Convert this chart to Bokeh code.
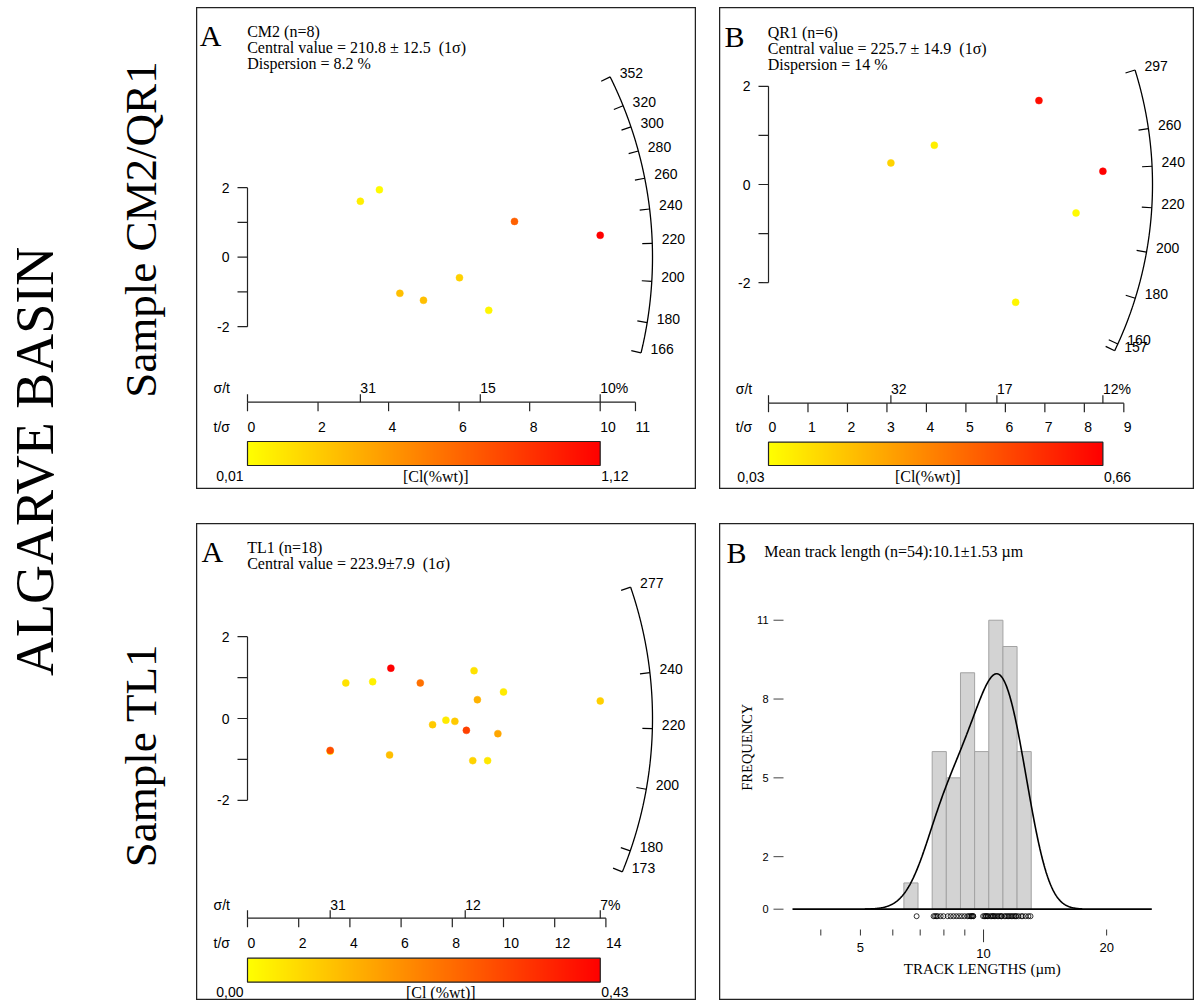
import numpy as np
from bokeh.plotting import figure
from bokeh.models import Range1d, ColumnDataSource, Spacer, LogScale, LinearColorMapper
from bokeh.layouts import row, column
from bokeh.transform import linear_cmap
from bokeh.core.properties import value
from bokeh.embed import file_html
from bokeh.resources import INLINE

SERIF = value("Liberation Serif")
SANS = value("Liberation Sans")
INK = "#222222"
NB = "\u00a0"
NUM = "14px"

# ---------------- data ----------------
# Sample CM2 (radial plot)
cm2_tsig = [3.20, 3.74, 7.57, 10.00, 4.32, 4.99, 6.01, 6.84]
cm2_z = [1.61, 1.94, 1.03, 0.63, -1.04, -1.24, -0.59, -1.53]
cm2_cl = [0.08, 0.03, 0.70, 1.12, 0.29, 0.29, 0.21, 0.05]
cm2_cl_range = [0.01, 1.12]
cm2_age_ticks = [352, 320, 300, 280, 260, 240, 220, 200, 180, 166]
cm2_age_ref = 212.5
cm2_x_ticks = [0, 2, 4, 6, 8, 10, 11]
cm2_lines = ["CM2 (n=8)", "Central value = 210.8 \u00b1 12.5 " + NB + "(1\u03c3)", "Dispersion = 8.2 %"]

# Sample QR1 (radial plot)
qr1_tsig = [3.10, 4.20, 6.85, 8.47, 7.79, 6.26]
qr1_z = [0.44, 0.80, 1.71, 0.27, -0.58, -2.40]
qr1_cl = [0.14, 0.07, 0.63, 0.66, 0.04, 0.05]
qr1_cl_range = [0.03, 0.66]
qr1_age_ticks = [297, 260, 240, 220, 200, 180, 160, 157]
qr1_age_ref = 231.0
qr1_x_ticks = [0, 1, 2, 3, 4, 5, 6, 7, 8, 9]
qr1_lines = ["QR1 (n=6)", "Central value = 225.7 \u00b1 14.9 " + NB + "(1\u03c3)", "Dispersion = 14 %"]

# Sample TL1 (radial plot)
tl1_tsig = [3.23, 3.23, 3.84, 4.89, 5.60, 6.75, 8.85, 10.00, 8.98, 13.78,
            7.23, 7.75, 8.10, 8.55, 9.78, 5.55, 8.80, 9.38]
tl1_z = [-0.80, -0.78, 0.87, 0.90, 1.23, 0.87, 1.17, 0.65, 0.46, 0.43,
         -0.15, -0.04, -0.07, -0.29, -0.37, -0.89, -1.03, -1.03]
tl1_cl = [0.04, 0.30, 0.05, 0.025, 0.43, 0.24, 0.05, 0.035, 0.13, 0.08,
          0.09, 0.035, 0.09, 0.32, 0.15, 0.11, 0.075, 0.04]
tl1_cl_range = [0.00, 0.43]
tl1_age_ticks = [277, 240, 220, 200, 180, 173]
tl1_age_ref = 223.5
tl1_x_ticks = [0, 2, 4, 6, 8, 10, 12, 14]
tl1_lines = ["TL1 (n=18)", "Central value = 223.9\u00b17.9 " + NB + "(1\u03c3)"]

z_ticks = [-2, -1, 0, 1, 2]
z_labels = ["-2", "", "0", "", "2"]

# Track lengths (TL1, n=54)
track_lengths = [5.4,
                 6.6, 6.7, 6.8, 6.9, 7.1, 7.3,
                 7.6, 7.8, 8.0, 8.2, 8.4,
                 8.6, 8.8, 9.0, 9.1, 9.2, 9.3, 9.3, 9.4, 9.4,
                 10.1, 10.2, 10.3, 10.3, 10.4, 10.45,
                 10.6, 10.7, 10.8, 10.8, 10.9, 11.0, 11.1, 11.2, 11.3, 11.4, 11.4,
                 11.6, 11.7, 11.8, 11.9, 12.0, 12.1, 12.2, 12.3, 12.4, 12.45,
                 12.6, 12.8, 12.9, 13.1, 13.3, 13.45]
hist_edges = [4.5, 5.5, 6.5, 7.5, 8.5, 9.5, 10.5, 11.5, 12.5, 13.5]
freq_ticks = [0, 2, 5, 8, 11]
length_ticks = [4, 5, 6, 7, 8, 9, 10, 20]
length_labels = ["", "5", "", "", "", "", "10", "20"]
length_major = [10]
kde_bandwidth = 1.22

PALETTE = ["#%02x%02x%02x" % (255, int(round(255 * (1 - i / 255.0))), 0) for i in range(256)]


def base_fig(W, H, xr, yr):
    p = figure(width=W, height=H, x_range=xr, y_range=yr, toolbar_location=None,
               output_backend="svg", x_axis_location=None, y_axis_location=None,
               min_border=0)
    p.grid.visible = False
    p.outline_line_color = INK
    p.outline_line_width = 1.5
    p.background_fill_color = "white"
    p.border_fill_color = "white"
    return p


def txt(p, x, y, s, font=SANS, size=NUM, align="left", base="middle", **kw):
    p.text(x=x, y=y, text=s, text_font=font, text_font_size=size, text_align=align,
           text_baseline=base, text_color="black", **kw)


def radial_panel(W, H, g, tsig, z, cl, cl_rng, age_ticks, age_ref, x_ticks, letter, lines, cl_title):
    # g holds page-pixel positions of the panel furniture
    ox, oy, sx, sy, R = g["ox"], g["oy"], g["sx"], g["sy"], g["R"]
    X = lambda rx: (rx - ox) / sx
    Y = lambda ry: (oy - ry) / sy
    L, T = g["left"], g["top"]
    p = base_fig(W, H, Range1d(X(L), X(L + W)), Range1d(Y(T + H), Y(T)))

    txt(p, [X(g["letter_x"])], [Y(g["letter_y"])], [letter], SERIF, "30px", base="alphabetic")
    txt(p, [X(g["title_x"])] * len(lines), [Y(g["title_y"] + 16 * i) for i in range(len(lines))],
        lines, SERIF, "16px", base="alphabetic")

    # standardised estimate axis
    p.segment(x0=[0], y0=[min(z_ticks)], x1=[0], y1=[max(z_ticks)], line_color=INK, line_width=1.2)
    p.segment(x0=[0] * len(z_ticks), y0=z_ticks, x1=[-10 / sx] * len(z_ticks), y1=z_ticks,
              line_color=INK, line_width=1.2)
    txt(p, [-18 / sx] * len(z_ticks), z_ticks, z_labels, align="right")

    # age arc
    k = sy / sx
    th = lambda t: np.arctan(np.log(np.asarray(t, dtype=float) / age_ref) * k)
    ths = np.linspace(th(min(age_ticks)), th(max(age_ticks)), 240)
    p.line(R * np.cos(ths) / sx, R * np.sin(ths) / sy, line_color="black", line_width=1.3)
    ta = th(age_ticks)
    p.segment(x0=R * np.cos(ta) / sx, y0=R * np.sin(ta) / sy,
              x1=(R - 10) * np.cos(ta) / sx, y1=(R - 10) * np.sin(ta) / sy,
              line_color="black", line_width=1.2)
    txt(p, R * np.cos(ta) / sx + 9.5 / sx, R * np.sin(ta) / sy + 4 / sy, [str(a) for a in age_ticks])

    # precision axis (t/sigma below, sigma/t above)
    ay = Y(g["axis_y"])
    p.segment(x0=[0], y0=[ay], x1=[max(x_ticks)], y1=[ay], line_color=INK, line_width=1.2)
    p.segment(x0=x_ticks, y0=[ay] * len(x_ticks), x1=x_ticks, y1=[Y(g["axis_y"] + 9)] * len(x_ticks),
              line_color=INK, line_width=1.2)
    txt(p, x_ticks, [Y(g["tlab_y"])] * len(x_ticks), [str(v) for v in x_ticks])
    lo_x, hi_x = min(tsig), max(tsig)
    sig = [lo_x, (lo_x + hi_x) / 2.0, hi_x]
    sig_lab = [str(int(round(100.0 / v))) for v in sig]
    sig_lab[-1] += "%"
    up = [0] + sig
    p.segment(x0=up, y0=[ay] * len(up), x1=up, y1=[Y(g["axis_y"] - 8)] * len(up),
              line_color=INK, line_width=1.2)
    txt(p, sig, [Y(g["sig_lab_y"])] * 3, sig_lab)
    txt(p, [X(g["lab_x"])] * 2, [Y(g["sig_lab_y"]), Y(g["tlab_y"])], ["\u03c3/t", "t/\u03c3"])

    # data points coloured by Cl
    src = ColumnDataSource(dict(x=tsig, y=z, cl=cl))
    cmap = linear_cmap("cl", PALETTE, cl_rng[0], cl_rng[1])
    p.scatter("x", "y", source=src, size=7, fill_color=cmap, line_color=cmap, line_width=0.5)

    # colour bar
    mapper = LinearColorMapper(palette=PALETTE, low=cl_rng[0], high=cl_rng[1])
    cb_b, cb_t = Y(g["cb_bot"]), Y(g["cb_top"])
    p.image(image=[np.linspace(cl_rng[0], cl_rng[1], 256).reshape(1, -1)], x=0, y=cb_b,
            dw=hi_x, dh=cb_t - cb_b, color_mapper=mapper)
    p.quad(left=[0], right=[hi_x], bottom=[cb_b], top=[cb_t], fill_color=None,
           line_color=INK, line_width=1.2)
    fmt = lambda v: ("%.2f" % v).replace(".", ",")
    ly = Y(g["cb_lab_y"])
    txt(p, [-4 / sx], [ly], [fmt(cl_rng[0])], align="right")
    txt(p, [hi_x + 1 / sx], [ly], [fmt(cl_rng[1])])
    txt(p, [X(g["cl_title_x"])], [ly], [cl_title], SERIF, "16px", align="center")
    return p


def histogram_panel(W, H, L, T):
    x10, pxu, y0, pyu = 981.2, 14.15, 908.7, 26.27   # page px of 10 um / 0 count, and scales
    x4, plog = 820.3, 177.6                           # page px of 4 um on the log tick axis
    X = lambda rx: 10 + (rx - x10) / pxu
    Y = lambda ry: (y0 - ry) / pyu
    p = base_fig(W, H, Range1d(X(L), X(L + W)), Range1d(Y(T + H), Y(T)))
    p.extra_x_ranges = {"log": Range1d(4 * np.exp((L - x4) / plog), 4 * np.exp((L + W - x4) / plog))}
    p.extra_x_scales = {"log": LogScale()}

    txt(p, [X(726)], [Y(551.7)], ["B"], SERIF, "30px", base="alphabetic")
    txt(p, [X(763.7)], [Y(551)], ["Mean track length (n=54):10.1\u00b11.53 \u00b5m"], SERIF, "16px",
        base="alphabetic")

    counts, edges = np.histogram(track_lengths, bins=hist_edges)
    keep = counts > 0
    p.quad(left=edges[:-1][keep], right=edges[1:][keep], bottom=0, top=counts[keep],
           fill_color="#d3d3d3", line_color="#a3a3a3", line_width=1)

    tl = np.asarray(track_lengths)
    bw = kde_bandwidth
    grid = np.linspace(tl.min() - 3 * bw, tl.max() + 3 * bw, 400)
    dens = np.exp(-0.5 * ((grid[:, None] - tl[None, :]) / bw) ** 2).sum(axis=1) / (np.sqrt(2 * np.pi) * bw)
    p.line(grid, dens * (hist_edges[1] - hist_edges[0]), line_color="black", line_width=1.6)

    p.segment(x0=[X(792)], y0=[0], x1=[X(1151.3)], y1=[0], line_color="black", line_width=1.8)

    # frequency ticks
    p.segment(x0=[X(773)] * len(freq_ticks), y0=freq_ticks, x1=[X(783)] * len(freq_ticks), y1=freq_ticks,
              line_color="#444444", line_width=1)
    txt(p, [X(768)] * len(freq_ticks), freq_ticks, [str(v) for v in freq_ticks], size="11px", align="right")
    txt(p, [X(746)], [Y(746.7)], ["FREQUENCY"], SERIF, "14.5px", align="center", base="alphabetic",
        angle=np.pi / 2)

    # rug of individual lengths
    p.scatter(x=track_lengths, y=[Y(915.7)] * len(track_lengths), marker="circle", size=5,
              fill_color=None, line_color="black", line_width=0.8)

    # length axis (log ticks)
    ends = [941.7 if t in length_major else 935 for t in length_ticks]
    p.segment(x0=length_ticks, y0=[Y(929)] * len(length_ticks), x1=length_ticks, y1=[Y(e) for e in ends],
              line_color="#333333", line_width=1, x_range_name="log")
    txt(p, length_ticks, [Y(e + 11.5) for e in ends], length_labels, size="13px", align="center",
        x_range_name="log")
    txt(p, [X(981.7)], [Y(968.3)], ["TRACK LENGTHS (\u00b5m)"], SERIF, "15px", align="center")
    return p


geoA1 = dict(left=196, top=7, ox=247, oy=256.7, sx=35.27, sy=34.75, R=405,
             letter_x=199.3, letter_y=35, title_x=246.7, title_y=31.3, lab_x=213,
             axis_y=401.7, sig_lab_y=387.7, tlab_y=426, cb_top=441, cb_bot=465,
             cb_lab_y=475.7, cl_title_x=435.3)
geoB1 = dict(left=719, top=7, ox=768, oy=184, sx=39.48, sy=49.08, R=384,
             letter_x=724, letter_y=35.7, title_x=767.3, title_y=32, lab_x=735.3,
             axis_y=402.7, sig_lab_y=388.3, tlab_y=426.7, cb_top=441.7, cb_bot=465,
             cb_lab_y=476, cl_title_x=927.3)
geoA2 = dict(left=196, top=523, ox=247, oy=718, sx=25.6, sy=40.9, R=405,
             letter_x=201, letter_y=550.7, title_x=246.7, title_y=547.3, lab_x=213,
             axis_y=917.7, sig_lab_y=904.3, tlab_y=942.7, cb_top=957.7, cb_bot=981.7,
             cb_lab_y=991.7, cl_title_x=440.3)

WA, WB, HT, HB = 500, 475, 482, 477

pA1 = radial_panel(WA, HT, geoA1, cm2_tsig, cm2_z, cm2_cl, cm2_cl_range, cm2_age_ticks, cm2_age_ref,
                   cm2_x_ticks, "A", cm2_lines, "[Cl(%wt)]")
pB1 = radial_panel(WB, HT, geoB1, qr1_tsig, qr1_z, qr1_cl, qr1_cl_range, qr1_age_ticks, qr1_age_ref,
                   qr1_x_ticks, "B", qr1_lines, "[Cl(%wt)]")
pA2 = radial_panel(WA, HB, geoA2, tl1_tsig, tl1_z, tl1_cl, tl1_cl_range, tl1_age_ticks, tl1_age_ref,
                   tl1_x_ticks, "A", tl1_lines, "[Cl (%wt)]")
pB2 = histogram_panel(WB, HB, 719, 523)

# left strip with sample labels (page pixel space, y measured from the top)
LH = 1000
left = figure(width=196, height=LH, x_range=Range1d(0, 196), y_range=Range1d(0, LH),
              toolbar_location=None, output_backend="svg", x_axis_location=None,
              y_axis_location=None, min_border=0)
left.grid.visible = False
left.outline_line_color = None
txt(left, [34], [LH - 460.8], ["ALGARVE BASIN"], SERIF, "54px", align="center", base="alphabetic",
    angle=np.pi / 2)
txt(left, [140, 140], [LH - 229, LH - 755], ["Sample CM2/QR1", "Sample TL1"], SERIF, "45px",
    align="center", base="alphabetic", angle=np.pi / 2)

top = row(pA1, Spacer(width=23, height=HT), pB1)
bot = row(pA2, Spacer(width=23, height=HB), pB2)
right = column(Spacer(width=WA + 23 + WB, height=7), top, Spacer(width=WA + 23 + WB, height=34), bot)
layout = row(left, right)

open("out.html", "w").write(file_html(layout, INLINE))
